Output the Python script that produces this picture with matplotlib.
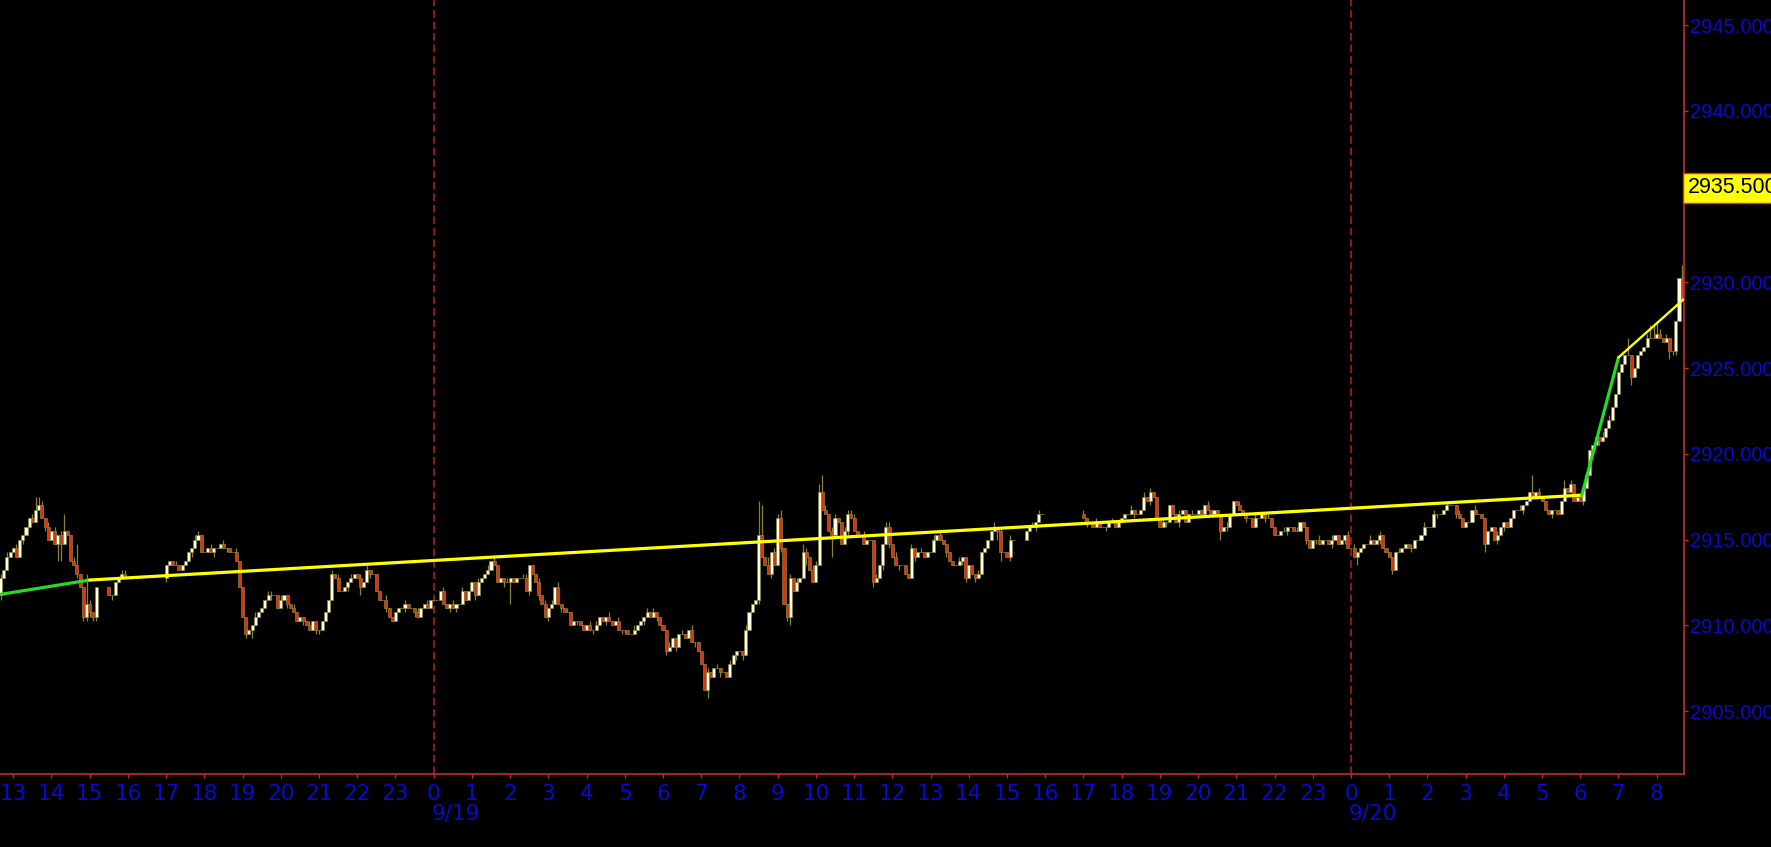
import matplotlib.pyplot as plt
import matplotlib.transforms as mtrans

# 5-minute bars; bar number n counts from 9/19 00:00, 12 bars per hour
# open of every bar = previous close; wick strings are in ticks (0.25)

# 9/18 12:40 - 15:10
a_start, a_open = -136, 2911.75
a_close = [
    2912.75, 2913.25, 2914.0, 2914.25,
    2914.5, 2914.0, 2915.0, 2915.25, 2915.75, 2916.25, 2916.0, 2916.75, 2917.0, 2916.25, 2915.75, 2915.0,
    2915.5, 2914.75, 2915.25, 2914.75, 2915.5, 2915.25, 2913.75, 2913.5, 2913.0, 2912.25, 2910.5, 2911.25,
    2910.75, 2910.5, 2912.25,
]
a_up = "1010" "010000132101" "010140015007" "100"
a_dn = "1000" "000100000010" "004400001011" "111"

# 9/18 15:30 - 15:55
a2_start, a2_open = -102, 2912.25
a2_close = [2911.75, 2911.75, 2912.5, 2912.75, 2913.0, 2912.75]
a2_up = "000011"
a2_dn = "010000"

# 9/18 17:00 - 9/19 15:10
b_start, b_open = -84, 2912.75
b_close = [
    2913.5, 2913.75, 2913.5, 2913.5, 2913.25, 2913.5, 2913.75, 2914.25, 2914.5, 2915.0, 2915.25, 2914.25,  # 17
    2914.25, 2914.5, 2914.25, 2914.5, 2914.5, 2914.75, 2914.5, 2914.5, 2914.25, 2914.25, 2913.75, 2912.25,  # 18
    2910.5, 2909.5, 2909.75, 2910.0, 2910.5, 2910.75, 2911.0, 2911.5, 2911.75, 2911.75, 2911.75, 2911.0,  # 19
    2911.5, 2911.75, 2911.25, 2911.0, 2910.75, 2910.25, 2910.5, 2910.25, 2910.0, 2909.75, 2910.25, 2909.75,  # 20
    2909.75, 2910.25, 2910.75, 2911.5, 2913.0, 2912.75, 2912.0, 2912.0, 2912.25, 2912.5, 2912.75, 2913.0,  # 21
    2912.75, 2912.25, 2912.5, 2913.25, 2913.0, 2913.0, 2912.0, 2911.5, 2911.5, 2911.0, 2910.5, 2910.25,  # 22
    2910.75, 2911.0, 2911.0, 2911.25, 2911.0, 2911.0, 2910.75, 2910.5, 2911.0, 2911.25, 2911.0, 2911.5,  # 23
    2911.5, 2911.5, 2912.0, 2911.25, 2911.0, 2911.25, 2911.0, 2911.25, 2911.25, 2912.0, 2911.5, 2912.0,  # 0
    2912.5, 2911.75, 2912.5, 2912.75, 2913.0, 2913.25, 2913.75, 2913.5, 2912.5, 2912.75, 2912.5, 2912.5,  # 1
    2912.75, 2912.5, 2912.75, 2912.75, 2912.75, 2912.0, 2913.5, 2913.0, 2912.5, 2911.75, 2911.25, 2910.5,  # 2
    2911.0, 2911.25, 2912.25, 2911.25, 2911.0, 2910.75, 2910.75, 2910.0, 2910.25, 2910.25, 2910.0, 2909.75,  # 3
    2910.0, 2909.75, 2909.75, 2910.0, 2910.5, 2910.25, 2910.5, 2910.25, 2910.0, 2910.25, 2909.75, 2909.75,  # 4
    2909.75, 2909.5, 2909.5, 2909.75, 2910.0, 2910.25, 2910.5, 2910.75, 2910.5, 2910.75, 2910.5, 2910.0,  # 5
    2909.75, 2908.5, 2908.75, 2909.25, 2908.75, 2909.5, 2909.5, 2909.25, 2909.75, 2909.0, 2909.0, 2908.5,  # 6
    2907.75, 2906.25, 2907.25, 2907.0, 2907.5, 2907.5, 2907.25, 2907.25, 2907.0, 2907.75, 2908.25, 2908.5,  # 7
    2908.5, 2908.25, 2909.75, 2910.75, 2911.25, 2911.5, 2915.25, 2914.0, 2913.5, 2913.0, 2914.25, 2913.5,  # 8
    2916.25, 2914.5, 2911.25, 2910.5, 2912.75, 2912.0, 2912.5, 2912.75, 2914.25, 2914.0, 2913.25, 2912.5,  # 9
    2913.5, 2917.75, 2916.75, 2916.5, 2915.5, 2915.25, 2916.25, 2916.0, 2914.75, 2915.5, 2916.5, 2916.25,  # 10
    2915.5, 2915.25, 2915.25, 2914.75, 2915.0, 2915.0, 2912.5, 2912.75, 2913.5, 2914.75, 2915.75, 2914.75,  # 11
    2914.0, 2913.5, 2913.5, 2913.5, 2913.0, 2912.75, 2914.5, 2914.0, 2914.25, 2914.25, 2914.0, 2914.25,  # 12
    2914.25, 2915.0, 2915.25, 2915.0, 2914.75, 2914.25, 2913.75, 2913.5, 2913.5, 2913.75, 2914.0, 2912.75,  # 13
    2913.5, 2913.0, 2912.75, 2913.0, 2914.25, 2914.5, 2915.0, 2915.5, 2915.75, 2915.5, 2914.25, 2914.25,  # 14
    2914.0, 2915.0, 2915.0,  # 15
]
b_up = ("000100000110" "001000100010" "000010001100" "100010000100" "000010100010"
        "010100000100" "000100010010" "000100100100" "001001010001" "000011000101"
        "010100100000" "010100010010" "000100010100" "001000100100" "001001000100"
        "001000870201" "120010102101" "124101100111" "100100010011" "010000100100"
        "010100000100" "000100001010" "010")
b_dn = ("100000001000" "000100010000" "010200000100" "001000010001" "100000000100"
        "020010000100" "000100100000" "000001010000" "010000000010" "500000100100"
        "100010000100" "001000100001" "100000100010" "010010000010" "002000100001"
        "010000100010" "010120000200" "000005000010" "000000100101" "001000010000"
        "000001000011" "001000000220" "010")

# 9/19 15:30 - 15:55
b2_start, b2_open = 186, 2915.0
b2_close = [2915.5, 2915.75, 2915.75, 2916.0, 2916.5, 2916.5]
b2_up = "001010"
b2_dn = "000100"

# 9/19 17:00 - 9/20 08:40
c_start, c_open = 204, 2916.5
c_close = [
    2916.25, 2916.0, 2916.0, 2915.75, 2916.0, 2915.75, 2915.75, 2915.75, 2916.0, 2916.0, 2915.75, 2916.0,  # 17
    2916.25, 2916.5, 2916.5, 2916.75, 2916.5, 2916.5, 2916.75, 2917.5, 2917.25, 2917.75, 2917.5, 2916.25,  # 18
    2915.75, 2916.0, 2916.0, 2917.0, 2916.5, 2916.0, 2916.5, 2916.75, 2916.0, 2916.5, 2916.5, 2916.5,  # 19
    2916.75, 2916.5, 2917.0, 2916.75, 2916.5, 2916.75, 2916.5, 2915.5, 2915.75, 2915.75, 2916.5, 2917.25,  # 20
    2917.0, 2916.75, 2916.5, 2916.25, 2916.25, 2915.75, 2916.25, 2916.25, 2916.5, 2916.25, 2916.25, 2915.75,  # 21
    2915.25, 2915.25, 2915.5, 2915.5, 2915.75, 2915.75, 2915.5, 2915.5, 2916.0, 2915.75, 2915.0, 2914.5,  # 22
    2915.0, 2915.0, 2914.75, 2915.0, 2915.0, 2914.75, 2915.0, 2915.25, 2914.75, 2915.0, 2915.25, 2914.5,  # 23
    2914.5, 2914.0, 2914.25, 2914.5, 2914.75, 2914.75, 2915.0, 2914.75, 2915.0, 2915.25, 2914.5, 2914.25,  # 0
    2914.0, 2913.25, 2914.25, 2914.25, 2914.5, 2914.75, 2914.5, 2914.5, 2915.0, 2915.0, 2915.25, 2915.75,  # 1
    2915.75, 2915.75, 2916.5, 2916.5, 2916.5, 2916.75, 2917.0, 2917.0, 2917.0, 2916.5, 2916.25, 2915.75,  # 2
    2916.0, 2916.0, 2916.75, 2916.5, 2916.5, 2916.25, 2914.75, 2915.5, 2915.75, 2915.0, 2915.25, 2915.75,  # 3
    2916.0, 2915.75, 2916.25, 2916.75, 2916.75, 2916.75, 2917.0, 2917.25, 2917.75, 2917.5, 2917.75, 2917.5,  # 4
    2917.25, 2916.75, 2916.5, 2916.75, 2916.75, 2916.5, 2917.25, 2918.0, 2917.75, 2918.25, 2917.25, 2917.5,  # 5
    2917.25, 2918.0, 2918.75, 2920.25, 2920.5, 2921.0, 2920.75, 2921.0, 2921.5, 2922.0, 2922.75, 2923.5,  # 6
    2924.75, 2925.25, 2925.75, 2925.75, 2924.5, 2925.0, 2925.75, 2926.0, 2926.25, 2926.75, 2926.75, 2926.75,  # 7
    2927.0, 2926.75, 2926.5, 2926.75, 2926.0, 2926.0, 2927.75, 2930.25, 2929.25,  # 8
]
c_up = ("100010000100" "000100010100" "010000100010" "000100000100" "010000100010"
        "000100010000" "001000100001" "010000100100" "000100010001" "001000100010"
        "000100000010" "000001000401" "000000020100" "001000010100" "000400000133"
        "310100003")
c_dn = ("010000010000" "000010000100" "001000100000" "000000020100" "000100000100"
        "000010000010" "010000100010" "002000000100" "010000010000" "000100000100"
        "000000200010" "100000100000" "000100000000" "010000100000" "000020000000"
        "000021101")

# trend lines (hours from 9/19 00:00, price)
trend_x = [-11.4, -9.0, 30.04, 31.0, 32.7]
trend_y = [2911.78, 2912.64, 2917.59, 2925.62, 2929.0]
trend_col = ['#22DD22', '#FFFF00', '#22DD22', '#FFFF00']

y_ticks = [2905, 2910, 2915, 2920, 2925, 2930, 2935, 2940, 2945]
hour_ticks = list(range(-11, 33))
day_labels = [(0, '9/19'), (24, '9/20')]
alert_price = 2935.5

BLUE = '#0A0ACD'
RED = '#C0302A'
OLIVE = '#8A8238'
UP_FILL = '#FFFDE2'
DN_FILL = '#E0300E'
NARROW = ['Liberation Sans Narrow', 'DejaVu Sans']
SANS = ['Liberation Sans', 'DejaVu Sans']

sessions = [
    (a_start, a_open, a_close, a_up, a_dn),
    (a2_start, a2_open, a2_close, a2_up, a2_dn),
    (b_start, b_open, b_close, b_up, b_dn),
    (b2_start, b2_open, b2_close, b2_up, b2_dn),
    (c_start, c_open, c_close, c_up, c_dn),
]

xs, opens, closes, highs, lows = [], [], [], [], []
for start, first, cl, up, dn in sessions:
    op = [first] + cl[:-1]
    for i in range(len(cl)):
        xs.append((start + i) / 12)
        opens.append(op[i])
        closes.append(cl[i])
        highs.append(max(op[i], cl[i]) + int(up[i]) * 0.25)
        lows.append(min(op[i], cl[i]) - int(dn[i]) * 0.25)

fig = plt.figure(figsize=(17.71, 8.47), dpi=100)
fig.patch.set_facecolor('black')
ax = fig.add_axes([0, 73 / 847, 1684 / 1771, 774 / 847])
ax.set_facecolor('black')

# midnight separators
for h, _ in day_labels:
    ax.axvline(h, color='#B82020', lw=1.1, ls=(0, (5, 2.5)), zorder=1)

ax.vlines(xs, lows, highs, color=OLIVE, lw=0.9, zorder=2)
fills = [UP_FILL if c >= o else DN_FILL for o, c in zip(opens, closes)]
heights = [c - o for o, c in zip(opens, closes)]
ax.bar(xs, heights, bottom=opens, width=0.08, color=fills, edgecolor=OLIVE,
       linewidth=0.5, zorder=3)

for i in range(len(trend_col)):
    lw = 1.7 if i == 3 else 2.3
    ax.plot(trend_x[i:i + 2], trend_y[i:i + 2], color=trend_col[i], lw=lw,
            solid_capstyle='round', zorder=4)

ax.set_xlim(-11.347, 32.714)
ax.set_ylim(2901.33, 2946.46)

for s in ['top', 'left']:
    ax.spines[s].set_visible(False)
for s in ['right', 'bottom']:
    ax.spines[s].set_color(RED)
    ax.spines[s].set_linewidth(1.2)

ax.yaxis.tick_right()
ax.set_yticks(y_ticks)
ax.set_yticklabels([f'{v:.3f}' for v in y_ticks], fontsize=14.5, family=SANS)
ax.tick_params(axis='y', colors=RED, labelcolor=BLUE, length=3, width=1, pad=1)

ax.set_xticks(hour_ticks)
ax.set_xticklabels([str(h % 24) for h in hour_ticks], fontsize=15.5, family=NARROW)
ax.tick_params(axis='x', colors=RED, labelcolor=BLUE, length=3, width=1, pad=4)

tr = mtrans.blended_transform_factory(ax.transData, ax.transAxes)
for h, lab in day_labels:
    ax.text(h - 0.05, -0.051, lab, transform=tr, ha='left', va='center', color=BLUE,
            fontsize=15.5, family=NARROW, clip_on=False)

tr2 = mtrans.blended_transform_factory(ax.transAxes, ax.transData)
ax.text(1.0025, alert_price, '2935.5000', transform=tr2, ha='left', va='center',
        color='black', fontsize=15.5, family=SANS, clip_on=False, zorder=10,
        bbox=dict(boxstyle='square,pad=0.22', fc='#FFFF00', ec='#E03020', lw=1))

fig.savefig('out.png', dpi=100, facecolor='black')
